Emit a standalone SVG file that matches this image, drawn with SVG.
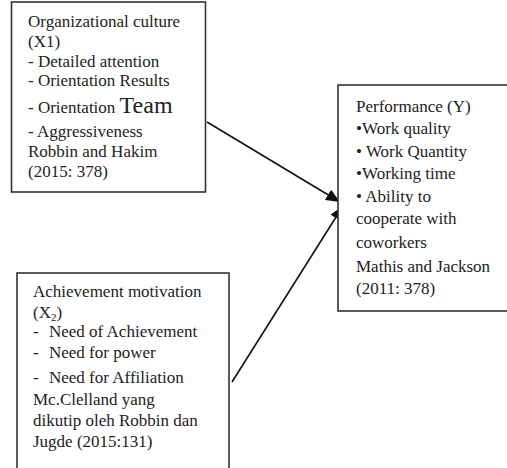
<svg xmlns="http://www.w3.org/2000/svg" width="507" height="468" viewBox="0 0 507 468">
<style>
.box{fill:#fff;stroke:#333;stroke-width:1.6}
text{font-family:"Liberation Serif","Times New Roman",serif;font-size:17px;fill:#222}
.big{font-size:24px}
.sub{font-size:11px}
.conn{stroke:#111;stroke-width:1.6;fill:none}
</style>
<defs>
<marker id="ah" viewBox="0 0 14 12" refX="14" refY="6" markerWidth="14" markerHeight="12" markerUnits="userSpaceOnUse" orient="auto">
<path d="M0,0 L14,6 L0,12 Z" fill="#111"/>
</marker>
</defs>
<rect width="507" height="468" fill="#fff"/>
<g id="connectors">
<line class="conn" x1="207" y1="122" x2="340" y2="202" marker-end="url(#ah)"/>
<line class="conn" x1="232" y1="382" x2="343" y2="206" marker-end="url(#ah)"/>
</g>
<g id="node-x1">
<rect class="box" x="11.5" y="2" width="194" height="190"/>
<text x="28" y="27">Organizational culture</text>
<text x="28" y="47">(X1)</text>
<text x="28" y="67">- Detailed attention</text>
<text x="28" y="86">- Orientation Results</text>
<text x="28" y="113">- Orientation <tspan class="big">Team</tspan></text>
<text x="28" y="137">- Aggressiveness</text>
<text x="28" y="157">Robbin and Hakim</text>
<text x="28" y="177">(2015: 378)</text>
</g>
<g id="node-x2">
<rect class="box" x="17" y="273" width="212" height="205"/>
<text x="33" y="297">Achievement motivation</text>
<text x="33" y="318">(X<tspan class="sub" dy="3">2</tspan><tspan dy="-3">)</tspan></text>
<text x="33" y="337">-</text><text x="49" y="337">Need of Achievement</text>
<text x="33" y="358">-</text><text x="49" y="358">Need for power</text>
<text x="33" y="383">-</text><text x="49" y="383">Need for Affiliation</text>
<text x="33" y="405">Mc.Clelland yang</text>
<text x="33" y="426">dikutip oleh Robbin dan</text>
<text x="33" y="447">Jugde (2015:131)</text>
</g>
<g id="node-y">
<rect class="box" x="338" y="85" width="180" height="226"/>
<text x="356" y="112">Performance (Y)</text>
<text x="356" y="134">•Work quality</text>
<text x="356" y="157">• Work Quantity</text>
<text x="356" y="179">•Working time</text>
<text x="356" y="202">• Ability to</text>
<text x="356" y="224">cooperate with</text>
<text x="356" y="248">coworkers</text>
<text x="356" y="272">Mathis and Jackson</text>
<text x="356" y="294">(2011: 378)</text>
</g>
</svg>
